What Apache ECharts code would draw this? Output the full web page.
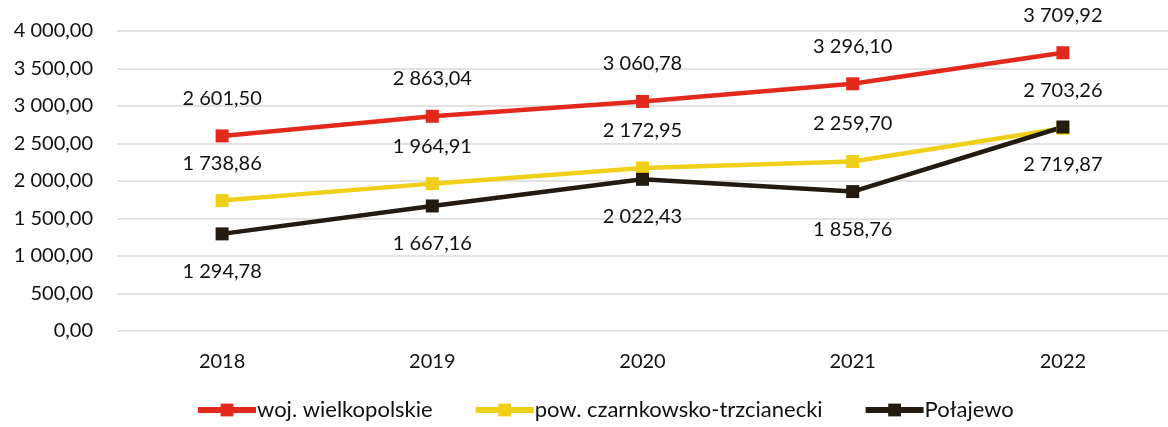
<!DOCTYPE html>
<html>
<head>
<meta charset="utf-8">
<script src="https://cdn.jsdelivr.net/npm/echarts@6/dist/echarts.min.js"></script>
<style>
  html, body { margin: 0; padding: 0; background: #fff; }
  #chart { width: 1168px; height: 427px; }
</style>
</head>
<body>
<div id="chart"></div>
<script>
var years = ["2018", "2019", "2020", "2021", "2022"];
var wojValues = [2601.50, 2863.04, 3060.78, 3296.10, 3709.92];
var powValues = [1738.86, 1964.91, 2172.95, 2259.70, 2703.26];
var polajewoValues = [1294.78, 1667.16, 2022.43, 1858.76, 2719.87];

// 1234.5 -> "1 234,50"
function plNum(v) {
  var parts = v.toFixed(2).split(".");
  parts[0] = parts[0].replace(/\B(?=(\d{3})+(?!\d))/g, " ");
  return parts[0] + "," + parts[1];
}

var font = "Lato";
var textColor = "#111";

function lineSeries(name, data, color, labelPos) {
  return {
    name: name,
    type: "line",
    data: data,
    symbol: "rect",
    symbolSize: 13,
    lineStyle: { color: color, width: 4.5 },
    itemStyle: { color: color },
    label: {
      show: true,
      position: labelPos,
      distance: 21,
      fontFamily: font,
      fontSize: 20,
      color: textColor,
      formatter: function (p) { return plNum(p.value); }
    }
  };
}

var chart = echarts.init(document.getElementById("chart"));
chart.setOption({
  animation: false,
  grid: { left: 117, right: -6, top: 31, bottom: 96 },
  legend: {
    bottom: 1,
    left: 190,
    itemWidth: 58,
    itemHeight: 16,
    itemGap: 40,
    lineStyle: { width: 6 },
    textStyle: { fontFamily: font, fontSize: 22, color: textColor, padding: [0, 0, 0, -4] },
    data: ["woj. wielkopolskie", "pow. czarnkowsko-trzcianecki", "Połajewo"]
  },
  xAxis: {
    type: "category",
    data: years,
    boundaryGap: true,
    axisLine: { show: false },
    axisTick: { show: false },
    axisLabel: { fontFamily: font, fontSize: 20, color: textColor, margin: 21 }
  },
  yAxis: {
    type: "value",
    min: 0,
    max: 4000,
    interval: 500,
    axisLine: { show: false },
    axisTick: { show: false },
    splitLine: { lineStyle: { color: "#d9d9d9", width: 1.5 } },
    axisLabel: {
      fontFamily: font,
      fontSize: 20,
      color: textColor,
      margin: 24,
      formatter: function (v) { return plNum(v); }
    }
  },
  series: [
    lineSeries("woj. wielkopolskie", wojValues, "#E3291C", "top"),
    lineSeries("pow. czarnkowsko-trzcianecki", powValues, "#F0CF1B", "top"),
    lineSeries("Połajewo", polajewoValues, "#231B12", "bottom")
  ]
});
</script>
</body>
</html>
